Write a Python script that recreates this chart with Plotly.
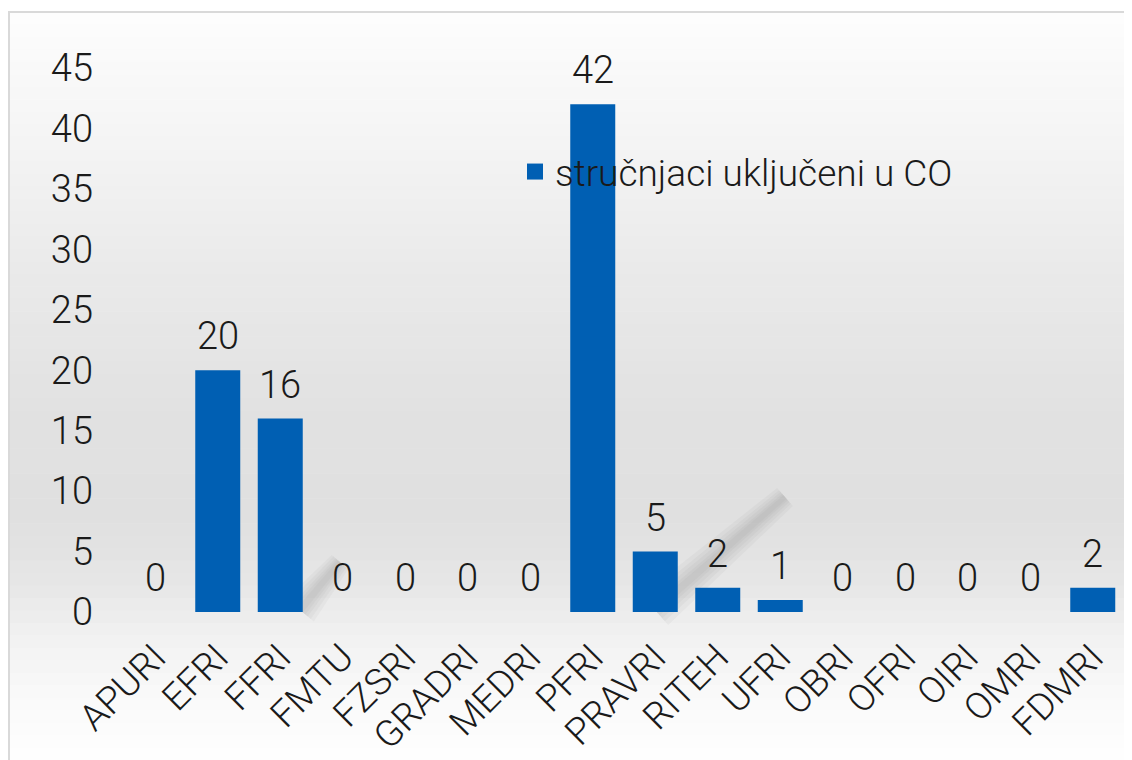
import plotly.graph_objects as go

categories = ["APURI", "EFRI", "FFRI", "FMTU", "FZSRI", "GRADRI", "MEDRI", "PFRI",
              "PRAVRI", "RITEH", "UFRI", "OBRI", "OFRI", "OIRI", "OMRI", "FDMRI"]
values = [0, 20, 16, 0, 0, 0, 0, 42, 5, 2, 1, 0, 0, 0, 0, 2]
series_name = "stručnjaci uključeni u CO"
y_ticks = [0, 5, 10, 15, 20, 25, 30, 35, 40, 45]

# page offset of the figure (body margin)
OFF = 8
W, H = 1124, 752
ML, MT = 124 - OFF, 68 - OFF
PW, PH = 1000, 544
MR = W - ML - PW
MB = H - MT - PH

def px_x(px):  # page px -> paper x
    return (px - OFF - ML) / PW

def px_y(py):  # page px -> paper y
    return (MT + PH - (py - OFF)) / PH

BLUE = "#005FB3"
FONT = "Roboto, Liberation Sans, Arial, sans-serif"
TXT = "#1a1a1a"

fig = go.Figure()
fig.add_trace(go.Bar(
    x=categories, y=values, name=series_name,
    marker=dict(color=BLUE, line=dict(width=0)),
    cliponaxis=False, showlegend=False, hoverinfo="x+y",
))
# legend entry
fig.add_trace(go.Scatter(
    x=[None], y=[None], mode="markers", name=series_name,
    marker=dict(symbol="square", size=20, color=BLUE), showlegend=True,
))

annotations = [dict(x=c, y=v, xref="x", yref="y", text=str(v), showarrow=False,
                    yanchor="bottom", yshift=10,
                    font=dict(size=38, family=FONT, color=TXT, weight=300))
               for c, v in zip(categories, values)]

# background gradient (grey band, white top and bottom)
stops = [(12, (253, 253, 253)), (100, (247, 247, 247)), (200, (239, 239, 239)),
         (300, (232, 232, 232)), (420, (225, 225, 225)), (520, (224, 224, 224)),
         (580, (230, 230, 230)), (630, (240, 240, 240)), (690, (249, 249, 249)),
         (760, (255, 255, 255))]
shapes = []
n = 60
for i in range(n):
    y0 = 12 + (760 - 12) * i / n
    y1 = 12 + (760 - 12) * (i + 1) / n
    ym = (y0 + y1) / 2
    for j in range(len(stops) - 1):
        if stops[j][0] <= ym <= stops[j + 1][0]:
            t = (ym - stops[j][0]) / (stops[j + 1][0] - stops[j][0])
            c = tuple(round(stops[j][1][k] + t * (stops[j + 1][1][k] - stops[j][1][k])) for k in range(3))
            break
    shapes.append(dict(type="rect", xref="paper", yref="paper", layer="below",
                       x0=px_x(9), x1=px_x(1140),
                       y0=px_y(y1 + 0.5), y1=px_y(y0),
                       fillcolor="rgb(%d,%d,%d)" % c, line=dict(width=0)))

# soft diagonal shadows (layered for a blurred look)
def soft_streak(xa, ya, xb, yb, widths):
    import math
    dx, dy = xb - xa, yb - ya
    L = math.hypot(dx, dy)
    nx, ny = -dy / L, dx / L
    for w in widths:
        pts = [(xa + nx * w, ya + ny * w), (xb + nx * w * 0.6, yb + ny * w * 0.6),
               (xb - nx * w * 0.6, yb - ny * w * 0.6), (xa - nx * w, ya - ny * w)]
        path = "M " + " L ".join("%f %f" % (px_x(p[0]), px_y(p[1])) for p in pts) + " Z"
        shapes.append(dict(type="path", xref="paper", yref="paper", layer="below",
                           path=path, fillcolor="rgba(120,120,120,0.06)", line=dict(width=0)))

soft_streak(300, 610, 340, 562, [18, 14, 10, 7, 4])
soft_streak(655, 610, 785, 497, [20, 15, 11, 7, 4])

# border
shapes.append(dict(type="rect", xref="paper", yref="paper", layer="above",
                   x0=px_x(9), x1=px_x(1131),
                   y0=px_y(780), y1=px_y(12),
                   fillcolor="rgba(0,0,0,0)", line=dict(color="#D9D9D9", width=2)))

fig.update_layout(
    width=W, height=H,
    margin=dict(l=ML, r=MR, t=MT, b=MB, pad=0, autoexpand=False),
    paper_bgcolor="white", plot_bgcolor="rgba(0,0,0,0)",
    bargap=0.28,
    font=dict(family=FONT, size=36, color=TXT, weight=300),
    shapes=shapes,
    annotations=annotations,
    legend=dict(x=px_x(515), y=px_y(172), xanchor="left", yanchor="middle",
                bgcolor="rgba(0,0,0,0)", font=dict(size=37, family=FONT, color=TXT, weight=300),
                itemsizing="trace"),
    xaxis=dict(type="category", tickangle=-45, showgrid=False, showline=False, zeroline=False,
               ticks="", tickfont=dict(size=37, family=FONT, color=TXT, weight=300),
               ticklabelstandoff=15, range=[-0.5, 15.5], automargin=False),
    yaxis=dict(range=[0, 45], tickvals=y_ticks, showgrid=False, showline=False, zeroline=False,
               ticks="", tickfont=dict(size=38, family=FONT, color=TXT, weight=300),
               ticklabelstandoff=30, automargin=False),
)

fig.write_html("out.html")
